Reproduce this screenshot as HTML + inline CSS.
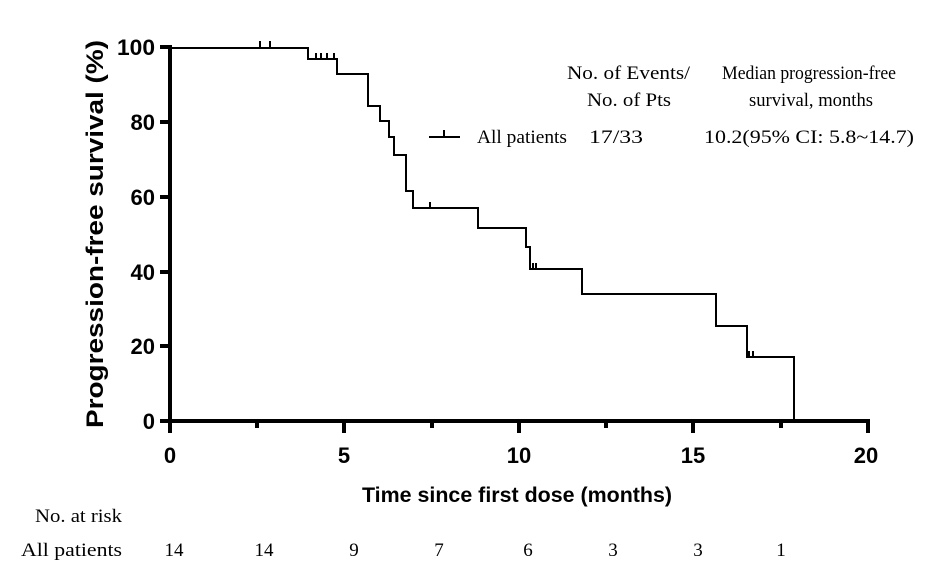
<!DOCTYPE html>
<html><head><meta charset="utf-8"><style>
html,body{margin:0;padding:0;background:#fff;}
svg{display:block;}
.b{font-family:"Liberation Sans",Arial,sans-serif;font-weight:bold;fill:#000;}
.s{font-family:"Liberation Serif","Times New Roman",serif;fill:#000;font-size:19px;}
</style></head><body>
<svg width="931" height="586" viewBox="0 0 931 586" xmlns="http://www.w3.org/2000/svg">
<line x1="170" y1="45" x2="170" y2="423" stroke="#000" stroke-width="4"/>
<line x1="168" y1="421" x2="870" y2="421" stroke="#000" stroke-width="4"/>
<g stroke="#000" stroke-width="4">
<line x1="160" y1="47" x2="170" y2="47"/>
<line x1="160" y1="122" x2="170" y2="122"/>
<line x1="160" y1="197" x2="170" y2="197"/>
<line x1="160" y1="272" x2="170" y2="272"/>
<line x1="160" y1="346" x2="170" y2="346"/>
<line x1="160" y1="421" x2="170" y2="421"/>
<line x1="170" y1="421" x2="170" y2="433"/>
<line x1="257" y1="421" x2="257" y2="428"/>
<line x1="344" y1="421" x2="344" y2="433"/>
<line x1="432" y1="421" x2="432" y2="428"/>
<line x1="519" y1="421" x2="519" y2="433"/>
<line x1="606" y1="421" x2="606" y2="428"/>
<line x1="693" y1="421" x2="693" y2="433"/>
<line x1="781" y1="421" x2="781" y2="428"/>
<line x1="868" y1="421" x2="868" y2="433"/>
</g>
<g class="b" font-size="22" text-anchor="end">
<text x="155" y="55" textLength="38" lengthAdjust="spacingAndGlyphs">100</text>
<text x="155" y="130">80</text>
<text x="155" y="205">60</text>
<text x="155" y="280">40</text>
<text x="155" y="354">20</text>
<text x="155" y="429">0</text>
</g>
<g class="b" font-size="22" text-anchor="middle">
<text x="170" y="463">0</text>
<text x="344" y="463">5</text>
<text x="519" y="463">10</text>
<text x="693" y="463">15</text>
<text x="866" y="463">20</text>
</g>
<text class="b" font-size="24" text-anchor="middle" transform="translate(103,234) rotate(-90)" textLength="388" lengthAdjust="spacingAndGlyphs">Progression-free survival (%)</text>
<text class="b" font-size="21" text-anchor="middle" x="517" y="502" textLength="310" lengthAdjust="spacingAndGlyphs">Time since first dose (months)</text>
<polyline fill="none" stroke="#000" stroke-width="2" points="170,48 308,48 308,59 337,59 337,74 368,74 368,106 380,106 380,121 389,121 389,137 394,137 394,155 406,155 406,191 413,191 413,208 478,208 478,228 526,228 526,247 530,247 530,269 582,269 582,294 716,294 716,326 747,326 747,357 794,357 794,421"/>
<g stroke="#000" stroke-width="2">
<line x1="260" y1="48" x2="260" y2="41"/><line x1="270" y1="48" x2="270" y2="41"/>
<line x1="316" y1="59" x2="316" y2="53"/><line x1="321" y1="59" x2="321" y2="53"/><line x1="327" y1="59" x2="327" y2="53"/><line x1="334" y1="59" x2="334" y2="53"/>
<line x1="430" y1="208" x2="430" y2="202"/>
<line x1="533" y1="269" x2="533" y2="263"/><line x1="536" y1="269" x2="536" y2="263"/>
<line x1="749" y1="357" x2="749" y2="351"/><line x1="753" y1="357" x2="753" y2="351"/>
</g>
<line x1="429" y1="137" x2="460" y2="137" stroke="#000" stroke-width="2"/>
<line x1="444" y1="137" x2="444" y2="130" stroke="#000" stroke-width="2"/>
<text class="s" x="477" y="143" textLength="90" lengthAdjust="spacingAndGlyphs">All patients</text>
<text class="s" x="589" y="143" textLength="54" lengthAdjust="spacingAndGlyphs">17/33</text>
<text class="s" x="704" y="143" textLength="210" lengthAdjust="spacingAndGlyphs">10.2(95% CI: 5.8~14.7)</text>
<text class="s" x="567" y="79" textLength="123" lengthAdjust="spacingAndGlyphs">No. of Events/</text>
<text class="s" x="587" y="106" textLength="84" lengthAdjust="spacingAndGlyphs">No. of Pts</text>
<text class="s" x="722" y="79" textLength="174" lengthAdjust="spacingAndGlyphs">Median progression-free</text>
<text class="s" x="749" y="106" textLength="124" lengthAdjust="spacingAndGlyphs">survival, months</text>
<text class="s" font-size="20" x="35" y="522" textLength="87" lengthAdjust="spacingAndGlyphs">No. at risk</text>
<text class="s" font-size="20" x="21" y="556" textLength="101" lengthAdjust="spacingAndGlyphs">All patients</text>
<g class="s" font-size="20" text-anchor="middle">
<text x="174" y="556">14</text>
<text x="264" y="556">14</text>
<text x="354" y="556">9</text>
<text x="439" y="556">7</text>
<text x="528" y="556">6</text>
<text x="613" y="556">3</text>
<text x="698" y="556">3</text>
<text x="781" y="556">1</text>
</g>
</svg>
</body></html>
